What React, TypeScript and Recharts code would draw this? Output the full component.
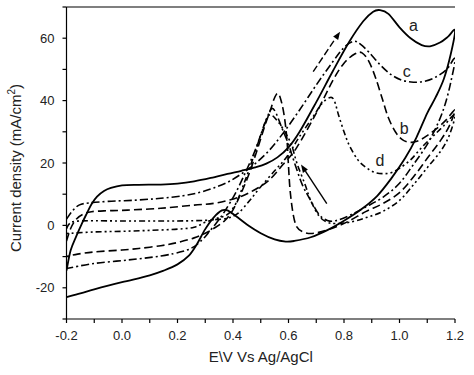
import { LineChart, Line, XAxis, YAxis, ReferenceDot, ReferenceLine } from 'recharts';

type Pt = [number, number];

// potential (V) ticks, minor every 0.1
const xTicks = [-0.2, -0.1, 0, 0.1, 0.2, 0.3, 0.4, 0.5, 0.6, 0.7, 0.8, 0.9, 1.0, 1.1, 1.2];
// current density ticks, minor every 10
const yTicks = [-30, -20, -10, 0, 10, 20, 30, 40, 50, 60, 70];

// curve a (solid): forward scan then reverse scan
const curveA: Pt[] = [
    [-0.2, -14.5], [-0.185, -8], [-0.165, -3.5], [-0.145, 0.5], [-0.127, 3.8], [-0.11, 6.8], [-0.09, 9.2],
    [-0.065, 11], [-0.04, 12], [0.0, 12.8], [0.06, 13], [0.14, 13.1], [0.2, 13.4], [0.26, 14.1], [0.32, 15.2],
    [0.38, 16.5], [0.43, 17.5], [0.48, 18.6], [0.52, 19.8], [0.56, 21.8], [0.6, 25], [0.64, 30], [0.7, 39.5],
    [0.76, 49.5], [0.82, 59], [0.87, 65.5], [0.905, 68.5], [0.93, 69], [0.96, 67.8], [1.0, 63.5], [1.04, 60],
    [1.08, 57.8], [1.11, 57.4], [1.146, 58.6], [1.175, 60.5], [1.2, 62.5],
    [1.185, 55], [1.16, 47], [1.13, 41], [1.1, 36], [1.06, 28], [1.02, 21.5], [0.97, 15], [0.92, 9.5],
    [0.86, 5], [0.8, 1.5], [0.74, -1.5], [0.68, -3.8], [0.62, -5], [0.59, -5.2], [0.55, -4.5], [0.5, -2.5],
    [0.45, 0.3], [0.41, 3], [0.38, 4.8], [0.36, 4.8], [0.33, 2.5], [0.3, -1.2], [0.27, -6], [0.24, -9.8],
    [0.2, -12.5], [0.15, -14.5], [0.1, -16], [0.04, -17.4], [0.0, -18.2], [-0.05, -19.3], [-0.1, -20.5],
    [-0.15, -21.8], [-0.2, -23],
];

// curve b (dashed)
const curveB: Pt[] = [
    [-0.2, -5], [-0.185, -1], [-0.165, 2], [-0.14, 3.6], [-0.11, 4.4], [-0.05, 4.7], [0.02, 4.9], [0.14, 5.5],
    [0.26, 6.5], [0.34, 7.2], [0.42, 9], [0.48, 11.5], [0.53, 14.5], [0.58, 19.5], [0.63, 25], [0.7, 36],
    [0.76, 46.5], [0.8, 52], [0.84, 55], [0.865, 55.3], [0.89, 52.5], [0.915, 47], [0.94, 40], [0.96, 34.5],
    [0.985, 30], [1.01, 27.5], [1.04, 26.6], [1.07, 27.2], [1.1, 28.8], [1.14, 31.5], [1.17, 34], [1.2, 37],
    [1.18, 32], [1.15, 27.5], [1.1, 21.5], [1.05, 15.5], [1.0, 10.5], [0.94, 7], [0.88, 4.5], [0.82, 1.5],
    [0.77, -0.5], [0.72, -2], [0.68, -2.6], [0.65, -2], [0.63, -0.5], [0.617, 3.5], [0.606, 11], [0.6, 19],
    [0.594, 28], [0.583, 36], [0.57, 41], [0.56, 42.3], [0.548, 40.5], [0.535, 37], [0.515, 32], [0.49, 25],
    [0.46, 17], [0.43, 10.5], [0.4, 5], [0.37, 1.5], [0.33, -1], [0.3, -2.5], [0.26, -4], [0.2, -5.5],
    [0.14, -6.5], [0.06, -7.4], [0.0, -7.9], [-0.1, -8.5], [-0.16, -9.2], [-0.2, -10],
];

// curve c (dash-dot)
const curveC: Pt[] = [
    [-0.2, 2], [-0.18, 4.5], [-0.155, 6.5], [-0.12, 7.2], [-0.05, 7.7], [0.05, 8.1], [0.14, 8.7], [0.22, 9.5],
    [0.28, 10.6], [0.33, 12], [0.38, 13.8], [0.43, 16.5], [0.48, 19.8], [0.53, 24], [0.58, 29.5], [0.64, 37],
    [0.7, 45], [0.76, 52.5], [0.8, 57], [0.835, 59], [0.86, 58], [0.89, 55.5], [0.93, 51.5], [0.97, 48.3],
    [1.01, 46.5], [1.05, 45.9], [1.09, 46.2], [1.13, 47.5], [1.17, 50], [1.2, 53.5],
    [1.185, 46], [1.165, 39], [1.14, 33], [1.1, 26], [1.05, 19.5], [1.0, 13.5], [0.94, 9], [0.88, 6],
    [0.82, 3.2], [0.77, 1.5], [0.74, 1.6], [0.71, 3.5], [0.68, 8], [0.65, 13], [0.62, 20.5], [0.6, 26],
    [0.575, 31.5], [0.555, 36], [0.54, 37.5], [0.525, 35], [0.5, 29], [0.475, 23], [0.45, 18], [0.41, 10.5],
    [0.37, 4.5], [0.34, 0.8], [0.31, -2.5], [0.29, -4.5], [0.26, -6.8], [0.22, -8.3], [0.14, -9.8],
    [0.02, -11.1], [-0.1, -12.2], [-0.2, -13.8],
];

// curve d (dash-dot-dot)
const curveD: Pt[] = [
    [-0.2, -1], [-0.19, 0.5], [-0.17, 1.3], [-0.1, 1.5], [0.0, 1.4], [0.14, 1.4], [0.26, 1.5], [0.33, 1.8],
    [0.38, 2.3], [0.42, 4], [0.46, 8], [0.5, 12.4], [0.55, 17.5], [0.594, 22], [0.64, 28.5], [0.69, 35],
    [0.72, 39], [0.75, 41], [0.765, 40], [0.78, 35.5], [0.8, 30], [0.82, 25.5], [0.85, 21], [0.88, 18.5],
    [0.91, 17], [0.94, 16.6], [0.97, 16.9], [1.0, 18.3], [1.04, 21], [1.08, 25], [1.12, 28.5], [1.16, 32],
    [1.2, 35.5],
    [1.18, 29], [1.15, 24], [1.1, 18.5], [1.05, 13], [1.0, 8], [0.94, 4.5], [0.88, 2.5], [0.82, 1],
    [0.77, 0.6], [0.74, 1], [0.71, 3], [0.68, 8], [0.66, 13], [0.63, 20], [0.61, 26], [0.58, 31],
    [0.555, 34], [0.535, 35.5], [0.52, 34], [0.5, 29], [0.47, 21], [0.44, 13.5], [0.41, 7], [0.38, 3.5],
    [0.34, 2.2], [0.3, 1], [0.26, -0.6], [0.2, -1.2], [0.1, -1.6], [0.0, -1.9], [-0.1, -2.1], [-0.2, -2.6],
];

const curveLabels = [
    { e: 1.05, j: 64.2, text: 'a' },
    { e: 1.017, j: 31.1, text: 'b' },
    { e: 1.026, j: 49.3, text: 'c' },
    { e: 0.93, j: 21, text: 'd' },
];

// scan direction arrows: [tail, head]
const arrowForward: Pt[] = [[0.689, 49.3], [0.786, 62.1]];
const arrowReverse: Pt[] = [[0.738, 7], [0.645, 19.5]];

const FONT = '"Liberation Sans", Arial, sans-serif';

// simple Catmull-Rom curve so the closed CV loops stay smooth
function catmullRom(context: any) {
    let pts: number[][] = [];
    return {
        areaStart() {},
        areaEnd() {},
        lineStart() { pts = []; },
        point(x: number, y: number) { pts.push([x, y]); },
        lineEnd() {
            if (!pts.length) return;
            context.moveTo(pts[0][0], pts[0][1]);
            for (let i = 0; i < pts.length - 1; i++) {
                const p0 = pts[Math.max(i - 1, 0)];
                const p1 = pts[i];
                const p2 = pts[i + 1];
                const p3 = pts[Math.min(i + 2, pts.length - 1)];
                context.bezierCurveTo(
                    p1[0] + (p2[0] - p0[0]) / 6, p1[1] + (p2[1] - p0[1]) / 6,
                    p2[0] - (p3[0] - p1[0]) / 6, p2[1] - (p3[1] - p1[1]) / 6,
                    p2[0], p2[1]
                );
            }
        },
    };
}

const toRows = (pts: Pt[]) => pts.map(([e, j]) => ({ e, j }));

const series = [
    { key: 'a', pts: curveA, dash: undefined, width: 1.8 },
    { key: 'b', pts: curveB, dash: '8 4', width: 1.6 },
    { key: 'c', pts: curveC, dash: '8 3 2 3', width: 1.6 },
    { key: 'd', pts: curveD, dash: '6 3 2 3 2 3', width: 1.6 },
];

function makeArrow(dashed: boolean) {
    return (props: any) => {
        const { x1, y1, x2, y2 } = props;
        const ang = Math.atan2(y2 - y1, x2 - x1);
        const len = 8;
        const w = 3;
        const bx = x2 - len * Math.cos(ang);
        const by = y2 - len * Math.sin(ang);
        const px = -Math.sin(ang) * w;
        const py = Math.cos(ang) * w;
        return (
            <g>
                <line x1={x1} y1={y1} x2={bx} y2={by} stroke="#000" strokeWidth={1.4} strokeDasharray={dashed ? '7 3' : undefined} />
                <polygon points={`${x2},${y2} ${bx + px},${by + py} ${bx - px},${by - py}`} fill="#000" />
            </g>
        );
    };
}

const XTick = (props: any) => {
    const { x, y, payload } = props;
    const v = payload.value;
    if (Math.round(v * 10) % 2 !== 0) return <g />;
    return (
        <text x={x} y={y} dy={15} textAnchor="middle" fontSize={13} fontFamily={FONT} fill="#222">
            {v.toFixed(1)}
        </text>
    );
};

const YTick = (props: any) => {
    const { x, y, payload } = props;
    const v = payload.value;
    if (v % 20 !== 0) return <g />;
    return (
        <text x={x} y={y} dy={4.5} textAnchor="end" fontSize={13} fontFamily={FONT} fill="#222">
            {v}
        </text>
    );
};

export default function App() {
    return (
        <div style={{ position: 'absolute', left: 0, top: 0, background: '#fff' }}>
            <LineChart width={474} height={375} margin={{ top: 7, right: 19, bottom: 26, left: 6.5 }}>
                <XAxis
                    dataKey="e"
                    type="number"
                    domain={[-0.2, 1.2]}
                    ticks={xTicks}
                    interval={0}
                    allowDataOverflow
                    height={30}
                    tickSize={4}
                    tick={<XTick />}
                    stroke="#000"
                    strokeWidth={1.2}
                    label={{
                        content: ({ viewBox }: any) => (
                            <text x={viewBox.x + viewBox.width / 2} y={viewBox.y + 43} textAnchor="middle" fontSize={15} fontFamily={FONT} fill="#222">
                                E\V Vs Ag/AgCl
                            </text>
                        ),
                    }}
                />
                <YAxis
                    type="number"
                    domain={[-30, 70]}
                    ticks={yTicks}
                    interval={0}
                    allowDataOverflow
                    width={60}
                    tickSize={4}
                    tickMargin={8}
                    tick={<YTick />}
                    stroke="#000"
                    strokeWidth={1.2}
                    label={{
                        content: ({ viewBox }: any) => {
                            const cx = viewBox.x + 14;
                            const cy = viewBox.y + viewBox.height / 2 + 5;
                            return (
                                <text x={cx} y={cy} textAnchor="middle" fontSize={15} fontFamily={FONT} fill="#222" transform={`rotate(-90, ${cx}, ${cy})`}>
                                    Current density (mA/cm<tspan dy={-6} fontSize={10}>2</tspan><tspan dy={6}>)</tspan>
                                </text>
                            );
                        },
                    }}
                />
                <YAxis yAxisId="right" orientation="right" type="number" domain={[-30, 70]} width={0} tick={false} tickLine={false} stroke="#000" strokeWidth={1.2} />

                {/* top edge of the frame */}
                <ReferenceLine y={70} stroke="#000" strokeWidth={1.2} />

                {series.map(s => (
                    <Line
                        key={s.key}
                        data={toRows(s.pts)}
                        dataKey="j"
                        type={catmullRom as any}
                        stroke="#000"
                        strokeWidth={s.width}
                        strokeDasharray={s.dash}
                        dot={false}
                        activeDot={false}
                        isAnimationActive={false}
                    />
                ))}

                <ReferenceLine
                    segment={arrowForward.map(([x, y]) => ({ x, y }))}
                    shape={makeArrow(true)}
                />
                <ReferenceLine
                    segment={arrowReverse.map(([x, y]) => ({ x, y }))}
                    shape={makeArrow(false)}
                />

                {curveLabels.map(l => (
                    <ReferenceDot
                        key={l.text}
                        x={l.e}
                        y={l.j}
                        r={0}
                        fill="none"
                        stroke="none"
                        label={{ value: l.text, position: 'center', fontSize: 16, fontFamily: FONT, fill: '#222' }}
                    />
                ))}
            </LineChart>
        </div>
    );
}
